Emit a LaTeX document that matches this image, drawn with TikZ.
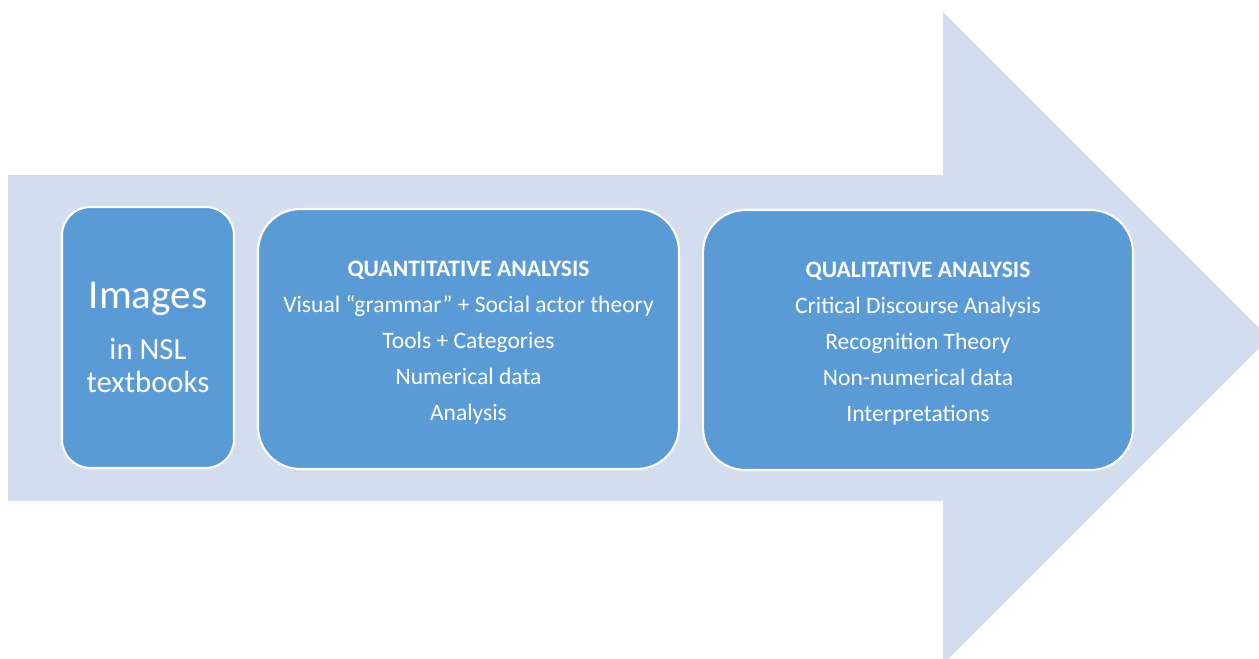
\documentclass[tikz,border=0pt]{standalone}
\usepackage{fontspec}
\setmainfont{Carlito}
\definecolor{arrowfill}{HTML}{D2DEEF}
\definecolor{boxfill}{HTML}{5B9BD5}
\tikzset{
  box/.style={draw=white, line width=1.2pt, fill=boxfill, text=white,
    align=center, minimum height=5.2cm, inner sep=0pt},
  body/.style={font=\fontsize{13.4}{20.5}\selectfont}
}
\begin{document}
\begin{tikzpicture}[x=0.02cm, y=-0.02cm]
          \useasboundingbox (0,0) rectangle (1259,659);
          \clip (0,0) rectangle (1259,659);

          % big arrow behind
          \fill[arrowfill] (8,175) -- (943,175) -- (943,12) -- (1269,338)
            -- (943,664) -- (943,501) -- (8,501) -- cycle;

          \node[box, rounded corners=16pt, minimum width=3.44cm, minimum height=5.22cm,
                font=\fontsize{17.5}{18.7}\selectfont] (images) at (148,337.5)
            {{\fontsize{23.4}{26}\selectfont Images}\\[10pt]
             in NSL\\textbooks};

          \node[box, body, rounded corners=24pt, minimum width=8.42cm] (quant) at (468.5,339)
            {\rule{0pt}{13.5pt}\textbf{QUANTITATIVE ANALYSIS}\\
             Visual “grammar” + Social actor theory\\
             Tools + Categories\\
             Numerical data\\
             Analysis};

          \node[box, body, rounded corners=24pt, minimum width=8.6cm] (qual) at (918,340)
            {\rule{0pt}{13.5pt}\textbf{QUALITATIVE ANALYSIS}\\
             Critical Discourse Analysis\\
             Recognition Theory\\
             Non-numerical data\\
             Interpretations};
        \end{tikzpicture}
\end{document}
